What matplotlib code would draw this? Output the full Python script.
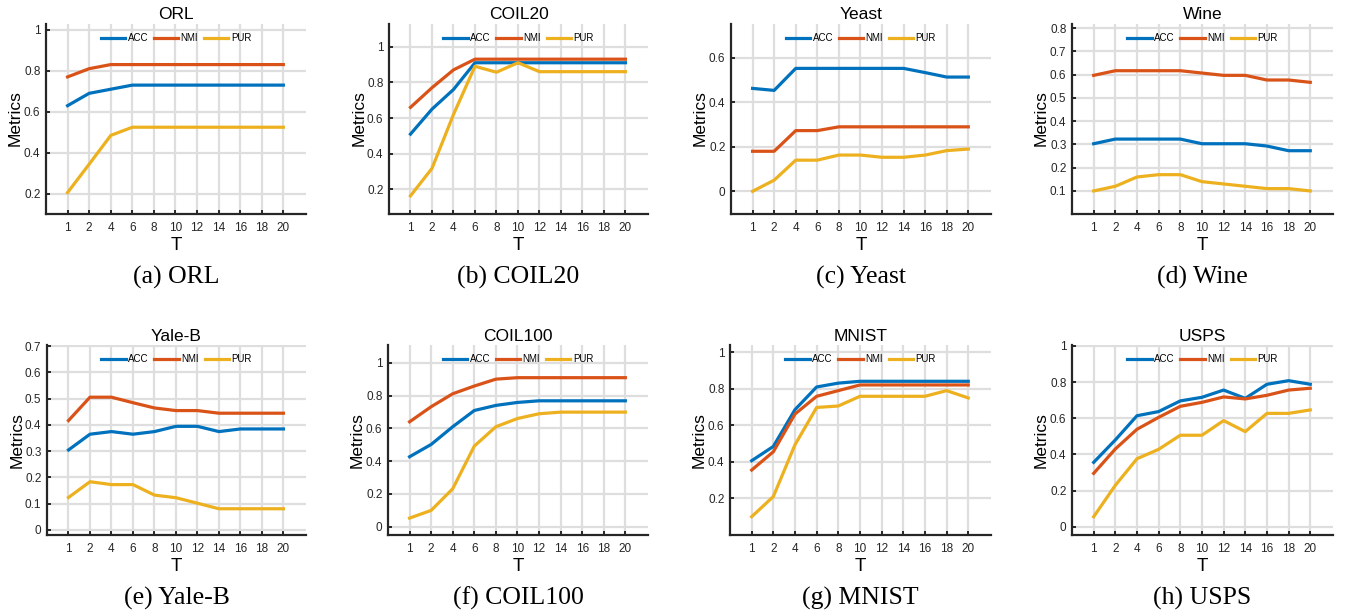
import numpy as np
import matplotlib
matplotlib.use('Agg')
import matplotlib.pyplot as plt

plt.rcParams['font.family'] = ['Liberation Sans', 'DejaVu Sans']

T = ['1', '2', '4', '6', '8', '10', '12', '14', '16', '18', '20']
names = ['ORL', 'COIL20', 'Yeast', 'Wine', 'Yale-B', 'COIL100', 'MNIST', 'USPS']
captions = ['(a) ORL', '(b) COIL20', '(c) Yeast', '(d) Wine',
            '(e) Yale-B', '(f) COIL100', '(g) MNIST', '(h) USPS']

acc = {
    'ORL':     [0.63, 0.69, 0.71, 0.73, 0.73, 0.73, 0.73, 0.73, 0.73, 0.73, 0.73],
    'COIL20':  [0.51, 0.65, 0.76, 0.91, 0.91, 0.91, 0.91, 0.91, 0.91, 0.91, 0.91],
    'Yeast':   [0.463, 0.454, 0.553, 0.553, 0.553, 0.553, 0.553, 0.553, 0.534, 0.514, 0.514],
    'Wine':    [0.303, 0.323, 0.323, 0.323, 0.323, 0.303, 0.303, 0.303, 0.293, 0.273, 0.273],
    'Yale-B':  [0.304, 0.364, 0.374, 0.364, 0.374, 0.394, 0.394, 0.374, 0.384, 0.384, 0.384],
    'COIL100': [0.427, 0.502, 0.61, 0.709, 0.74, 0.758, 0.768, 0.768, 0.768, 0.768, 0.768],
    'MNIST':   [0.406, 0.484, 0.685, 0.809, 0.83, 0.84, 0.84, 0.84, 0.84, 0.84, 0.84],
    'USPS':    [0.356, 0.48, 0.614, 0.637, 0.696, 0.716, 0.756, 0.71, 0.788, 0.808, 0.788],
}
nmi = {
    'ORL':     [0.77, 0.81, 0.83, 0.83, 0.83, 0.83, 0.83, 0.83, 0.83, 0.83, 0.83],
    'COIL20':  [0.66, 0.77, 0.87, 0.93, 0.93, 0.93, 0.93, 0.93, 0.93, 0.93, 0.93],
    'Yeast':   [0.18, 0.18, 0.273, 0.273, 0.29, 0.29, 0.29, 0.29, 0.29, 0.29, 0.29],
    'Wine':    [0.597, 0.617, 0.617, 0.617, 0.617, 0.607, 0.597, 0.597, 0.577, 0.577, 0.567],
    'Yale-B':  [0.416, 0.505, 0.505, 0.484, 0.464, 0.454, 0.454, 0.444, 0.444, 0.444, 0.444],
    'COIL100': [0.64, 0.732, 0.811, 0.858, 0.9, 0.909, 0.909, 0.909, 0.909, 0.909, 0.909],
    'MNIST':   [0.355, 0.455, 0.661, 0.758, 0.789, 0.82, 0.82, 0.82, 0.82, 0.82, 0.82],
    'USPS':    [0.295, 0.43, 0.539, 0.605, 0.666, 0.688, 0.718, 0.707, 0.727, 0.756, 0.766],
}
pur = {
    'ORL':     [0.207, 0.345, 0.485, 0.525, 0.525, 0.525, 0.525, 0.525, 0.525, 0.525, 0.525],
    'COIL20':  [0.164, 0.318, 0.62, 0.89, 0.857, 0.91, 0.86, 0.86, 0.86, 0.86, 0.86],
    'Yeast':   [0.0, 0.05, 0.14, 0.14, 0.163, 0.163, 0.153, 0.153, 0.163, 0.183, 0.19],
    'Wine':    [0.10, 0.12, 0.16, 0.17, 0.17, 0.14, 0.13, 0.12, 0.11, 0.11, 0.10],
    'Yale-B':  [0.123, 0.183, 0.172, 0.172, 0.132, 0.122, 0.101, 0.08, 0.08, 0.08, 0.08],
    'COIL100': [0.053, 0.10, 0.232, 0.492, 0.61, 0.66, 0.689, 0.699, 0.699, 0.699, 0.699],
    'MNIST':   [0.10, 0.21, 0.493, 0.697, 0.705, 0.758, 0.758, 0.758, 0.758, 0.789, 0.749],
    'USPS':    [0.055, 0.229, 0.376, 0.428, 0.506, 0.506, 0.587, 0.526, 0.627, 0.627, 0.646],
}

ylims = {
    'ORL': (0.105, 1.03), 'COIL20': (0.065, 1.13), 'Yeast': (-0.1, 0.755),
    'Wine': (0.003, 0.82), 'Yale-B': (-0.02, 0.705), 'COIL100': (-0.05, 1.11),
    'MNIST': (0.0, 1.04), 'USPS': (-0.046, 1.007),
}
yticks = {
    'ORL': [0.2, 0.4, 0.6, 0.8, 1], 'COIL20': [0.2, 0.4, 0.6, 0.8, 1],
    'Yeast': [0, 0.2, 0.4, 0.6], 'Wine': [0.1, 0.2, 0.3, 0.4, 0.5, 0.6, 0.7, 0.8],
    'Yale-B': [0, 0.1, 0.2, 0.3, 0.4, 0.5, 0.6, 0.7], 'COIL100': [0, 0.2, 0.4, 0.6, 0.8, 1],
    'MNIST': [0.2, 0.4, 0.6, 0.8, 1], 'USPS': [0, 0.2, 0.4, 0.6, 0.8, 1],
}

colors = ['#0072BD', '#D95319', '#EDB120']
W, H = 1345, 616

fig = plt.figure(figsize=(W / 100, H / 100), dpi=100)

# axes boxes in pixels: left, right, top, bottom
lefts = [46, 389, 731, 1072, 47, 388, 730, 1072]
rights = [306, 648, 991, 1333, 306, 648, 991, 1333]
tops = [23.5, 23.5, 23.5, 23.5, 344.7, 344.7, 344.7, 344.7]
bottoms = [213.5, 213.5, 213.5, 213.5, 535, 535, 535, 535]
cap_y = [277, 277, 277, 277, 598, 598, 598, 598]

x = np.arange(len(T))

for i, name in enumerate(names):
    l, r, t, b = lefts[i], rights[i], tops[i], bottoms[i]
    ax = fig.add_axes([l / W, (H - b) / H, (r - l) / W, (b - t) / H])
    ax.plot(x, acc[name], color=colors[0], lw=2.3, label='ACC')
    ax.plot(x, nmi[name], color=colors[1], lw=2.3, label='NMI')
    ax.plot(x, pur[name], color=colors[2], lw=2.3, label='PUR')
    ax.set_xlim(-1, 11.05)
    ax.set_ylim(*ylims[name])
    ax.set_xticks(x)
    ax.set_xticklabels(T)
    ax.set_yticks(yticks[name])
    ax.set_yticklabels(['%g' % v for v in yticks[name]])
    ax.grid(True, color='#dedede', lw=1.6)
    ax.set_axisbelow(True)
    for s in ['top', 'right']:
        ax.spines[s].set_visible(False)
    for s in ['left', 'bottom']:
        ax.spines[s].set_color('#262626')
        ax.spines[s].set_linewidth(1.6)
    ax.tick_params(direction='in', length=3, width=1.4, color='#262626',
                   labelsize=8.5, labelcolor='#262626')
    ax.tick_params(axis='x', pad=6)
    ax.tick_params(axis='y', pad=4)
    ax.set_title(name, fontsize=12.5, pad=3)
    ax.set_xlabel('T', fontsize=13.5, labelpad=2)
    ax.set_ylabel('Metrics', fontsize=12.5)
    ax.yaxis.set_label_coords(-0.088, 0.5)
    ax.legend(loc='upper center', ncol=3, frameon=False, fontsize=7,
              handlelength=2.5, handletextpad=0.25, columnspacing=0.6,
              borderaxespad=0.6, bbox_to_anchor=(0.5, 1.0))
    cx = (l + r) / 2 / W
    fig.text(cx, (H - cap_y[i]) / H, captions[i], ha='center', va='center',
             fontsize=18.5, family='Liberation Serif')

fig.savefig('out.png', dpi=100)
